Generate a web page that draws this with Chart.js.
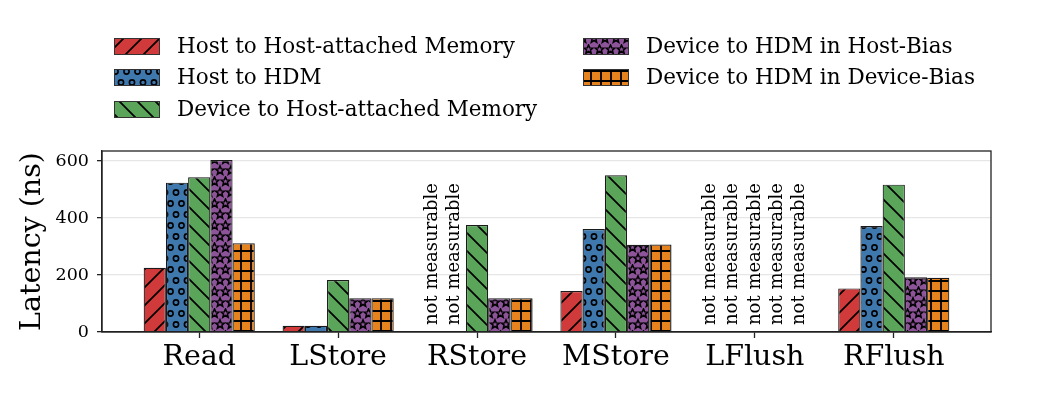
<!DOCTYPE html>
<html>
<head>
<meta charset="utf-8">
<script src="https://cdn.jsdelivr.net/npm/chart.js@4.4.1/dist/chart.umd.min.js"></script>
<style>
html,body{margin:0;padding:0;background:#fff;}
#wrap{width:1046px;height:393px;position:relative;}
</style>
</head>
<body>
<div id="wrap"><canvas id="c" width="1046" height="393"></canvas></div>
<script>
const categories = ['Read', 'LStore', 'RStore', 'MStore', 'LFlush', 'RFlush'];
const seriesNames = ['Host to Host-attached Memory', 'Host to HDM', 'Device to Host-attached Memory', 'Device to HDM in Host-Bias', 'Device to HDM in Device-Bias'];
const hostToHost   = [225, 22, null, 144, null, 153];
const hostToHDM    = [524, 22, null, 361, null, 372];
const devToHost    = [543, 182, 375, 550, null, 517];
const devHDMHost   = [603, 118, 118, 306, null, 192];
const devHDMDevice = [311, 118, 118, 307, null, 190];
const yTicks = [0, 200, 400, 600];
const notMeasurableText = 'not measurable';

const colors = ['#d13a3a', '#3f78ad', '#5aa55a', '#8d5499', '#e6831f'];
const hatches = ['/', 'o', '\\', '*', '+'];
const seriesValues = [hostToHost, hostToHDM, devToHost, devHDMHost, devHDMDevice];

function makePattern(color, hatch) {
  const c = document.createElement('canvas');
  const ctx = c.getContext('2d');
  let w = 18, h = 18;
  if (hatch === 'o' || hatch === '*') { w = 11; h = 22; }
  if (hatch === '+') { w = 10; h = 10; }
  c.width = w; c.height = h;
  ctx.fillStyle = color; ctx.fillRect(0, 0, w, h);
  ctx.strokeStyle = '#000'; ctx.lineWidth = 1.7; ctx.fillStyle = '#000';
  if (hatch === '/') {
    ctx.beginPath();
    ctx.moveTo(-2, h + 2); ctx.lineTo(w + 2, -2);
    ctx.moveTo(-2, 2); ctx.lineTo(2, -2);
    ctx.moveTo(w - 2, h + 2); ctx.lineTo(w + 2, h - 2);
    ctx.stroke();
  } else if (hatch === '\\') {
    ctx.beginPath();
    ctx.moveTo(-2, -2); ctx.lineTo(w + 2, h + 2);
    ctx.moveTo(w - 2, -2); ctx.lineTo(w + 2, 2);
    ctx.moveTo(-2, h - 2); ctx.lineTo(2, h + 2);
    ctx.stroke();
  } else if (hatch === '+') {
    ctx.lineWidth = 1.8;
    ctx.beginPath();
    ctx.moveTo(0, 1); ctx.lineTo(w, 1);
    ctx.moveTo(1, 0); ctx.lineTo(1, h);
    ctx.stroke();
  } else if (hatch === 'o') {
    ctx.lineWidth = 1.6;
    const pts = [[w/2, h/4], [0, 3*h/4], [w, 3*h/4]];
    pts.forEach(p => { ctx.beginPath(); ctx.arc(p[0], p[1], 2.6, 0, Math.PI*2); ctx.stroke(); });
  } else if (hatch === '*') {
    const pts = [[w/2, h/4], [0, 3*h/4], [w, 3*h/4]];
    pts.forEach(p => {
      ctx.beginPath();
      for (let k = 0; k < 10; k++) {
        const r = k % 2 === 0 ? 4.6 : 2.0;
        const a = -Math.PI/2 + k*Math.PI/5;
        const x = p[0] + r*Math.cos(a), y = p[1] + r*Math.sin(a);
        if (k === 0) ctx.moveTo(x, y); else ctx.lineTo(x, y);
      }
      ctx.closePath(); ctx.lineWidth = 1.5; ctx.stroke();
    });
  }
  return document.getElementById('c').getContext('2d').createPattern(c, 'repeat');
}

const patterns = colors.map((c, i) => makePattern(c, hatches[i]));
const FONT = "'DejaVu Serif', serif";

const datasets = seriesNames.map((name, d) => ({
  label: name,
  data: categories.map((_, i) => ({ x: i, y: seriesValues[d][i] })),
  backgroundColor: patterns[d],
  borderColor: '#1a1a1a',
  borderWidth: 1.2,
  categoryPercentage: 0.8,
  barPercentage: 1.0
}));

const legendPlugin = {
  id: 'customLegend',
  afterDraw(chart) {
    const ctx = chart.ctx;
    const pos = [[114, 46], [114, 77], [114, 109], [583, 46], [583, 77]];
    ctx.save();
    chart.data.datasets.forEach((ds, i) => {
      const [x, y] = pos[i];
      ctx.fillStyle = ds.backgroundColor;
      ctx.fillRect(x, y - 8, 45, 16);
      ctx.strokeStyle = '#333'; ctx.lineWidth = 1;
      ctx.strokeRect(x + 0.5, y - 7.5, 45, 16);
      ctx.fillStyle = '#000';
      ctx.font = "21.5px " + FONT;
      ctx.textBaseline = 'middle';
      ctx.textAlign = 'left';
      ctx.fillText(ds.label, x + 63, y + 1);
    });
    ctx.restore();
  }
};

const frameAndNotesPlugin = {
  id: 'frameNotes',
  afterDatasetsDraw(chart) {
    const ctx = chart.ctx;
    const a = chart.chartArea;
    const xs = chart.scales.x, ys = chart.scales.y;
    ctx.save();
    ctx.font = "18px " + FONT;
    ctx.fillStyle = '#000';
    ctx.textBaseline = 'middle';
    ctx.textAlign = 'left';
    const n = chart.data.datasets.length;
    chart.data.datasets.forEach((ds, d) => {
      ds.data.forEach((pt, i) => {
        if (pt.y === null) {
          const x = xs.getPixelForValue(pt.x + (d - (n - 1) / 2) * 0.16);
          const y = ys.getPixelForValue(0) - 7;
          ctx.save();
          ctx.translate(x, y);
          ctx.rotate(-Math.PI / 2);
          ctx.fillText(notMeasurableText, 0, 0);
          ctx.restore();
        }
      });
    });
    ctx.strokeStyle = '#222';
    ctx.lineWidth = 1.3;
    ctx.strokeRect(a.left, a.top, a.right - a.left, a.bottom - a.top);
    ctx.restore();
  }
};

new Chart(document.getElementById('c'), {
  type: 'bar',
  data: { datasets },
  options: {
    responsive: false,
    animation: false,
    devicePixelRatio: 1,
    layout: { padding: { top: 151, right: 55, left: 0, bottom: 0 } },
    plugins: { legend: { display: false }, tooltip: { enabled: false } },
    scales: {
      x: {
        type: 'linear',
        offset: false,
        min: -0.7, max: 5.7,
        afterBuildTicks(scale) { scale.ticks = categories.map((_, i) => ({ value: i })); },
        afterFit(scale) { scale.height = 61; },
        ticks: {
          callback: (v) => categories[v],
          font: { family: FONT, size: 28.5 },
          color: '#000',
          padding: 2,
          maxRotation: 0, autoSkip: false
        },
        grid: { offset: false, drawOnChartArea: false, tickLength: 6, tickColor: '#222', tickWidth: 1.3 },
        border: { display: true, color: '#222', width: 1.3 }
      },
      y: {
        min: 0, max: 635,
        afterBuildTicks(scale) { scale.ticks = yTicks.map(v => ({ value: v })); },
        afterFit(scale) { scale.width = 102; },
        ticks: {
          font: { family: FONT, size: 17.5 },
          color: '#000',
          padding: 8
        },
        grid: { color: '#e6e6e6', lineWidth: 1.3, tickLength: 5, tickColor: '#222', tickWidth: 1.3 },
        border: { display: true, color: '#222', width: 1.3 },
        title: {
          display: true,
          text: 'Latency (ns)',
          font: { family: FONT, size: 28.5 },
          color: '#000',
          padding: { top: 15, bottom: 0 }
        }
      }
    }
  },
  plugins: [legendPlugin, frameAndNotesPlugin]
});
</script>
</body>
</html>
